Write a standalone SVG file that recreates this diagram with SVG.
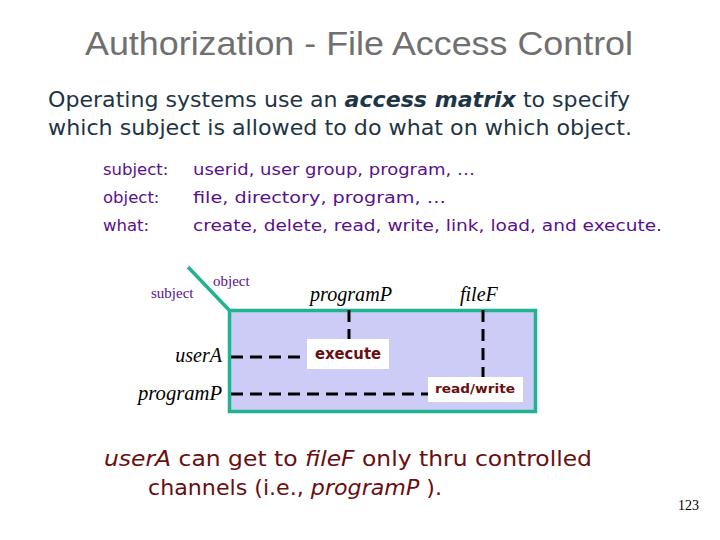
<svg xmlns="http://www.w3.org/2000/svg" width="720" height="540" viewBox="0 0 720 540">
<style>
.title{font-family:"Liberation Sans","DejaVu Sans",sans-serif;font-size:33px;fill:#707070}
.body{font-family:"DejaVu Sans","Liberation Sans",sans-serif;font-size:21px;fill:#1E3545}
.list{font-family:"DejaVu Sans","Liberation Sans",sans-serif;font-size:16.5px;fill:#5A0F8C}
.foot{font-family:"DejaVu Sans","Liberation Sans",sans-serif;font-size:21px;fill:#6A0E10}
.ser{font-family:"Liberation Serif","Times New Roman",serif;font-style:italic;font-size:20px;fill:#000}
.small{font-family:"Liberation Serif","Times New Roman",serif;font-size:15px;fill:#5A0F8C}
.dash{stroke:#000;stroke-width:3;stroke-dasharray:12,7;fill:none}
.cell{font-family:"DejaVu Sans","Liberation Sans",sans-serif;font-weight:bold;fill:#6A0E10}
</style>
<rect width="720" height="540" fill="#fff"/>
<text class="title" x="85" y="55" textLength="548" lengthAdjust="spacingAndGlyphs">Authorization -  File Access Control</text>
<text class="body" x="48" y="107" textLength="582" lengthAdjust="spacingAndGlyphs">Operating systems use an <tspan font-weight="bold" font-style="italic">access matrix</tspan>  to specify</text>
<text class="body" x="48" y="135" textLength="584" lengthAdjust="spacingAndGlyphs">which subject is allowed to do what on which object.</text>
<g class="list">
<text x="103" y="175">subject:</text><text x="193" y="175" textLength="282" lengthAdjust="spacingAndGlyphs">userid, user group, program, …</text>
<text x="103" y="203">object:</text><text x="193" y="203" textLength="253" lengthAdjust="spacingAndGlyphs">file, directory, program, …</text>
<text x="103" y="231">what:</text><text x="193" y="231" textLength="469" lengthAdjust="spacingAndGlyphs">create, delete, read, write, link, load, and execute.</text>
</g>
<g id="matrix">
<rect x="229.5" y="310.5" width="306" height="101" fill="#CCCCF7" stroke="#20B391" stroke-width="3.5"/>
<line x1="188" y1="267" x2="229.5" y2="310.5" stroke="#20B391" stroke-width="3.5"/>
<text class="small" x="151" y="298">subject</text>
<text class="small" x="213" y="286">object</text>
</g>
<g id="connectors">
<line class="dash" x1="349" y1="310" x2="349" y2="339"/>
<line class="dash" x1="483" y1="310" x2="483" y2="377"/>
<line class="dash" x1="231" y1="357" x2="307" y2="357"/>
<line class="dash" x1="231" y1="394" x2="428" y2="394"/>
</g>
<g id="col-programP"><text class="ser" x="310" y="301" textLength="82" lengthAdjust="spacingAndGlyphs">programP</text></g>
<g id="col-fileF"><text class="ser" x="460" y="301">fileF</text></g>
<g id="row-userA"><text class="ser" x="222" y="362" text-anchor="end">userA</text></g>
<g id="row-programP"><text class="ser" x="138" y="400" textLength="84" lengthAdjust="spacingAndGlyphs">programP</text></g>
<g id="cell-execute">
<rect x="307" y="339" width="82" height="30" fill="#fff"/>
<text class="cell" x="348" y="359" font-size="15" text-anchor="middle" textLength="66" lengthAdjust="spacingAndGlyphs">execute</text>
</g>
<g id="cell-readwrite">
<rect x="428" y="377" width="95" height="25" fill="#fff"/>
<text class="cell" x="475" y="393" font-size="12" text-anchor="middle" textLength="80" lengthAdjust="spacingAndGlyphs">read/write</text>
</g>
<text class="foot" x="104" y="466" textLength="488" lengthAdjust="spacingAndGlyphs"><tspan font-style="italic">userA</tspan>  can get to <tspan font-style="italic">fileF</tspan>  only thru controlled</text>
<text class="foot" x="148" y="495" textLength="294" lengthAdjust="spacingAndGlyphs">channels (i.e., <tspan font-style="italic">programP</tspan> ).</text>
<text x="678" y="510" font-family="Liberation Serif,serif" font-size="14" fill="#000">123</text>
</svg>
